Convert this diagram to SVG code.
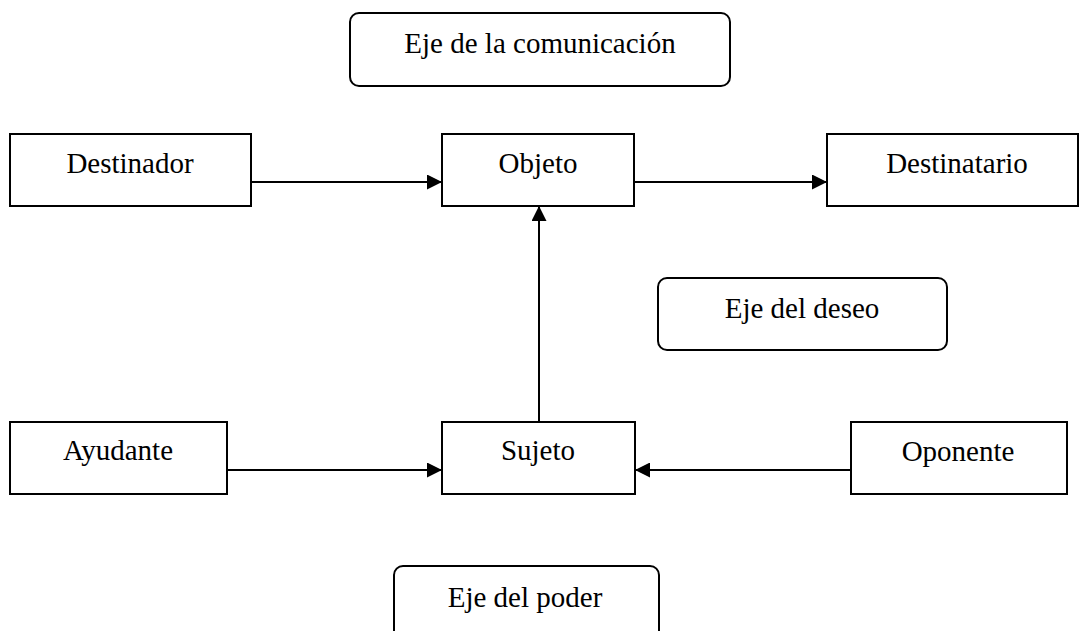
<svg xmlns="http://www.w3.org/2000/svg" width="1079" height="631" viewBox="0 0 1079 631">
  <style>
    .box { fill: #ffffff; stroke: #000000; stroke-width: 2; }
    .axis { fill: #ffffff; stroke: #000000; stroke-width: 2; }
    .label { font-family: "Liberation Serif", "Times New Roman", serif; font-size: 29px; fill: #000000; text-anchor: middle; }
    .link { fill: none; stroke: #000000; stroke-width: 2; marker-end: url(#arrow); }
  </style>
  <defs>
    <marker id="arrow" markerUnits="userSpaceOnUse" markerWidth="15" markerHeight="15" refX="15" refY="7.5" orient="auto">
      <path d="M0,0 L15,7.5 L0,15 z" fill="#000000"/>
    </marker>
  </defs>
  <rect width="1079" height="631" fill="#ffffff"/>

  <!-- axis labels (rounded boxes) -->
  <g id="eje-comunicacion">
    <rect class="axis" x="350" y="13" width="380" height="73" rx="9"/>
    <text class="label" x="540" y="53">Eje de la comunicación</text>
  </g>
  <g id="eje-deseo">
    <rect class="axis" x="658" y="278" width="289" height="72" rx="9"/>
    <text class="label" x="802" y="318">Eje del deseo</text>
  </g>
  <g id="eje-poder">
    <rect class="axis" x="394" y="566" width="265" height="80" rx="9"/>
    <text class="label" x="525" y="607">Eje del poder</text>
  </g>

  <!-- actants -->
  <g id="destinador">
    <rect class="box" x="10" y="134" width="241" height="72"/>
    <text class="label" x="130" y="173">Destinador</text>
  </g>
  <g id="objeto">
    <rect class="box" x="442" y="134" width="192" height="72"/>
    <text class="label" x="538" y="173">Objeto</text>
  </g>
  <g id="destinatario">
    <rect class="box" x="827" y="134" width="251" height="72"/>
    <text class="label" x="957" y="173">Destinatario</text>
  </g>
  <g id="ayudante">
    <rect class="box" x="10" y="422" width="217" height="72"/>
    <text class="label" x="118" y="460">Ayudante</text>
  </g>
  <g id="sujeto">
    <rect class="box" x="442" y="422" width="193" height="72"/>
    <text class="label" x="538" y="460">Sujeto</text>
  </g>
  <g id="oponente">
    <rect class="box" x="851" y="422" width="216" height="72"/>
    <text class="label" x="958" y="461">Oponente</text>
  </g>

  <!-- connectors -->
  <g id="connectors">
    <line class="link" x1="251" y1="182" x2="442" y2="182"/>
    <line class="link" x1="634" y1="182" x2="827" y2="182"/>
    <line class="link" x1="539" y1="422" x2="539" y2="206"/>
    <line class="link" x1="227" y1="470" x2="442" y2="470"/>
    <line class="link" x1="851" y1="470" x2="635" y2="470"/>
  </g>
</svg>
